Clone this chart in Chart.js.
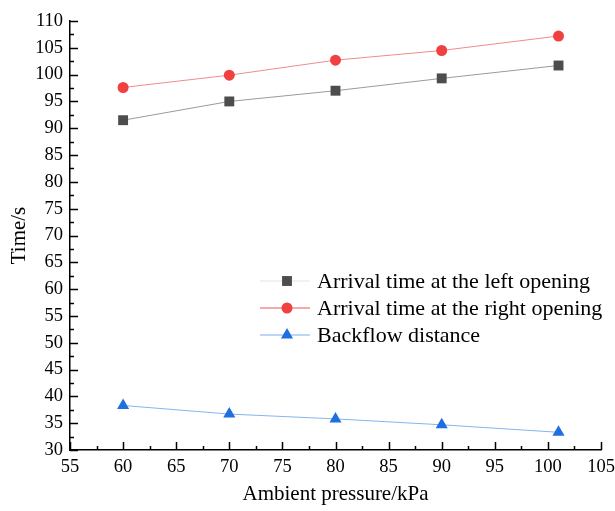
<!DOCTYPE html>
<html>
<head>
<meta charset="utf-8">
<script src="https://cdn.jsdelivr.net/npm/chart.js@4/dist/chart.umd.min.js"></script>
<style>
  html, body { margin: 0; padding: 0; background: #fff; }
  #wrap { width: 615px; height: 511px; }
</style>
</head>
<body>
<div id="wrap"><canvas id="myChart" width="615" height="511"></canvas></div>
<script>
// values
var pressure = [60, 70, 80, 90, 101];
var leftArrival = [91.5, 95.0, 97.0, 99.3, 101.7];
var rightArrival = [97.6, 99.9, 102.7, 104.5, 107.2];
var backflow = [38.3, 36.7, 35.8, 34.7, 33.3];
var seriesNames = ['Arrival time at the left opening', 'Arrival time at the right opening', 'Backflow distance'];

var xMin = 55, xMax = 105, xStep = 5;
var yMin = 30, yMax = 110, yStep = 5;

function pts(ys) {
    return pressure.map(function (x, i) { return { x: x, y: ys[i] }; });
}

var serif = "'Liberation Serif', 'Times New Roman', serif";

// ticks pointing into the plot, major + minor
var inwardTicks = {
    id: 'inwardTicks',
    afterDraw: function (chart) {
        var c = chart.ctx;
        var xs = chart.scales.x, ys = chart.scales.y;
        c.save();
        c.strokeStyle = '#000';
        c.lineWidth = 1.5;
        var v, p, len;
        for (v = xMin; v <= xMax + 0.001; v += xStep / 2) {
            p = Math.round(xs.getPixelForValue(v)) + 0.5;
            len = (Math.abs((v - xMin) % xStep) < 0.001) ? 8 : 4;
            c.beginPath();
            c.moveTo(p, ys.bottom);
            c.lineTo(p, ys.bottom - len);
            c.stroke();
        }
        for (v = yMin; v <= yMax + 0.001; v += yStep / 2) {
            p = Math.round(ys.getPixelForValue(v)) + 0.5;
            len = (Math.abs((v - yMin) % yStep) < 0.001) ? 8 : 4;
            c.beginPath();
            c.moveTo(xs.left, p);
            c.lineTo(xs.left + len, p);
            c.stroke();
        }
        c.restore();
    }
};

// legend box sitting inside the plot
var innerLegend = {
    id: 'innerLegend',
    afterDraw: function (chart) {
        var c = chart.ctx;
        var area = chart.chartArea;
        var x0 = area.left + 190;
        var y0 = area.top + 260;
        var rowH = 27;
        c.save();
        c.font = '22px ' + serif;
        c.textBaseline = 'middle';
        chart.data.datasets.forEach(function (ds, i) {
            var y = y0 + i * rowH;
            c.strokeStyle = ds.legendLine;
            c.lineWidth = 1.5;
            c.beginPath();
            c.moveTo(x0, y);
            c.lineTo(x0 + 50, y);
            c.stroke();
            c.fillStyle = ds.pointBackgroundColor;
            Chart.helpers.drawPoint(c, {
                pointStyle: ds.pointStyle,
                radius: ds.pointRadius,
                borderWidth: 0
            }, x0 + 27, y);
            c.fillStyle = '#000';
            c.fillText(ds.label, x0 + 57, y + 1);
        });
        c.restore();
    }
};

var ctx = document.getElementById('myChart').getContext('2d');
var chart = new Chart(ctx, {
    type: 'line',
    data: {
        datasets: [{
            label: seriesNames[0],
            data: pts(leftArrival),
            borderColor: '#9a9a9a',
            borderWidth: 1,
            pointStyle: 'rect',
            pointRadius: 7,
            pointBackgroundColor: '#4d4d4d',
            pointBorderColor: '#4d4d4d',
            pointBorderWidth: 0,
            legendLine: '#ececec'
        }, {
            label: seriesNames[1],
            data: pts(rightArrival),
            borderColor: '#f28a8a',
            borderWidth: 1,
            pointStyle: 'circle',
            pointRadius: 5.5,
            pointBackgroundColor: '#f04040',
            pointBorderColor: '#f04040',
            pointBorderWidth: 0,
            legendLine: '#f48c8c'
        }, {
            label: seriesNames[2],
            data: pts(backflow),
            borderColor: '#86b4ee',
            borderWidth: 1,
            pointStyle: 'triangle',
            pointRadius: 7,
            pointBackgroundColor: '#1f6fdf',
            pointBorderColor: '#1f6fdf',
            pointBorderWidth: 0,
            legendLine: '#a9c8f2'
        }]
    },
    options: {
        responsive: false,
        animation: false,
        layout: { padding: { top: 21, right: 14, left: 0, bottom: 0 } },
        plugins: {
            legend: { display: false },
            tooltip: { enabled: false }
        },
        scales: {
            x: {
                type: 'linear',
                min: xMin,
                max: xMax,
                grid: { display: false, drawTicks: false },
                border: { display: true, color: '#000', width: 1.5 },
                ticks: {
                    stepSize: xStep,
                    color: '#000',
                    padding: 6,
                    maxRotation: 0,
                    font: { family: serif, size: 18.5 }
                },
                title: {
                    display: true,
                    text: 'Ambient pressure/kPa',
                    color: '#000',
                    font: { family: serif, size: 21 },
                    padding: { top: 0, bottom: 4 }
                },
                afterFit: function (scale) {
                    scale.height = 61;
                    scale.paddingLeft = 0;
                    scale.paddingRight = 0;
                }
            },
            y: {
                min: yMin,
                max: yMax,
                grid: { display: false, drawTicks: false },
                border: { display: true, color: '#000', width: 1.5 },
                ticks: {
                    stepSize: yStep,
                    color: '#000',
                    padding: 7,
                    font: { family: serif, size: 18.5 }
                },
                title: {
                    display: true,
                    text: 'Time/s',
                    color: '#000',
                    font: { family: serif, size: 21 },
                    padding: { top: 7, bottom: 0 }
                },
                afterFit: function (scale) {
                    scale.width = 70;
                    scale.paddingTop = 0;
                    scale.paddingBottom = 0;
                }
            }
        }
    },
    plugins: [inwardTicks, innerLegend]
});
</script>
</body>
</html>
